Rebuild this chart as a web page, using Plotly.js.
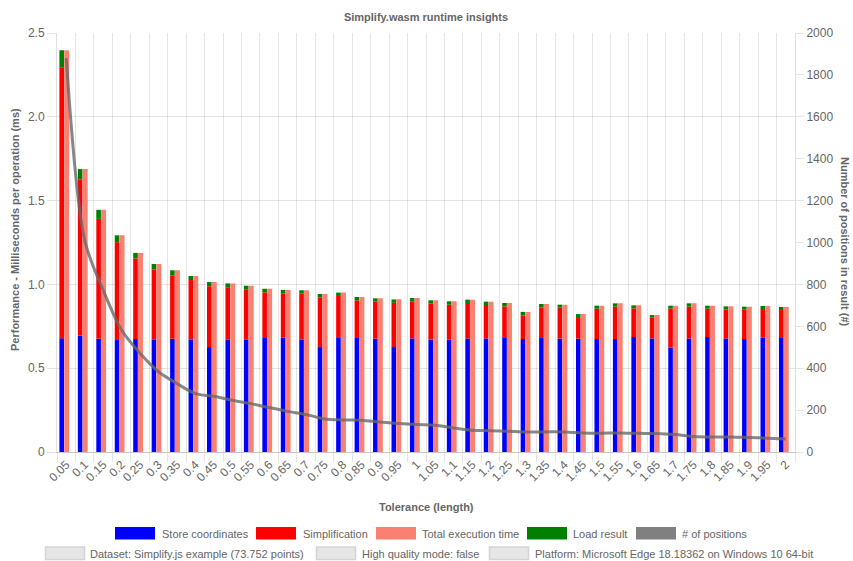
<!DOCTYPE html>
<html>
<head>
<meta charset="utf-8">
<script src="https://cdn.plot.ly/plotly-3.0.1.min.js"></script>
<style>
  html, body { margin: 0; padding: 0; background: #fff; }
  #chart { width: 853px; height: 561px; }
</style>
</head>
<body>
<div id="chart"></div>
<script>
// ---- Data ----
const categories = ['0.05','0.1','0.15','0.2','0.25','0.3','0.35','0.4','0.45','0.5',
                    '0.55','0.6','0.65','0.7','0.75','0.8','0.85','0.9','0.95','1',
                    '1.05','1.1','1.15','1.2','1.25','1.3','1.35','1.4','1.45','1.5',
                    '1.55','1.6','1.65','1.7','1.75','1.8','1.85','1.9','1.95','2'];

const storeCoordinates = [0.679,0.693,0.676,0.668,0.674,0.672,0.676,0.672,0.626,0.672,
                          0.672,0.680,0.681,0.672,0.626,0.680,0.680,0.676,0.626,0.678,
                          0.670,0.670,0.678,0.678,0.680,0.674,0.680,0.676,0.676,0.674,
                          0.674,0.686,0.678,0.624,0.678,0.686,0.678,0.674,0.681,0.680];

const simplification = [1.616,0.935,0.715,0.584,0.480,0.418,0.378,0.354,0.363,0.308,
                        0.296,0.273,0.266,0.273,0.297,0.251,0.225,0.221,0.264,0.221,
                        0.215,0.209,0.211,0.199,0.189,0.141,0.183,0.185,0.129,0.181,
                        0.193,0.171,0.123,0.233,0.189,0.169,0.173,0.175,0.172,0.167];

const loadResult = [0.102,0.060,0.054,0.041,0.034,0.032,0.030,0.024,0.025,0.026,
                    0.024,0.021,0.020,0.020,0.020,0.020,0.020,0.020,0.020,0.020,
                    0.020,0.020,0.020,0.020,0.020,0.021,0.020,0.018,0.018,0.018,
                    0.020,0.018,0.016,0.016,0.020,0.018,0.018,0.018,0.018,0.018];

const totalExecution = [2.397,1.688,1.445,1.293,1.188,1.122,1.084,1.050,1.014,1.006,
                        0.992,0.974,0.967,0.965,0.943,0.951,0.925,0.917,0.911,0.919,
                        0.905,0.899,0.909,0.897,0.889,0.836,0.883,0.879,0.823,0.873,
                        0.887,0.875,0.817,0.873,0.887,0.873,0.869,0.867,0.871,0.865];

const positions = [1880,1012,773,582,471,383,327,279,266,247,
                   231,212,194,179,158,153,152,143,136,131,
                   128,115,104,102,99,96,96,96,91,90,
                   91,89,88,83,74,72,72,69,66,62];

const leftTickVals = [0, 0.5, 1, 1.5, 2, 2.5];
const leftTickText = ['0', '0.5', '1.0', '1.5', '2.0', '2.5'];
const rightTickVals = [0,200,400,600,800,1000,1200,1400,1600,1800,2000];

const legendMain = ['Store coordinates','Simplification','Total execution time','Load result','# of positions'];
const legendInfo = ['Dataset: Simplify.js example (73.752 points)','High quality mode: false',
                    'Platform: Microsoft Edge 18.18362 on Windows 10 64-bit'];

// ---- Styles ----
const C_BLUE = '#0000ff', C_RED = '#ff0000', C_SALMON = '#fa8072', C_GREEN = '#008000', C_GRAY = '#808080';
const FONT = 'Liberation Sans, Arial, Helvetica, sans-serif';
const TXT = '#666666';

// pixel geometry of the plot area
const W = 853, H = 561;
const PL = 57, PR = 795, PT = 33, PB = 452;
const px = x => (x - PL) / (PR - PL);
const py = y => (PB - y) / (PB - PT);

// stacked bases built from the series
const baseRed = storeCoordinates.map((v, i) => v);
const baseGreen = storeCoordinates.map((v, i) => v + simplification[i]);

const STACK_OFF = -0.37, STACK_W = 0.25, TOT_OFF = -0.11, TOT_W = 0.27;

const traces = [
  { type: 'bar', name: 'Store coordinates', x: categories, y: storeCoordinates, base: 0,
    offset: STACK_OFF, width: STACK_W, marker: { color: C_BLUE, line: { width: 0 } } },
  { type: 'bar', name: 'Simplification', x: categories, y: simplification, base: baseRed,
    offset: STACK_OFF, width: STACK_W, marker: { color: C_RED, line: { width: 0 } } },
  { type: 'bar', name: 'Load result', x: categories, y: loadResult, base: baseGreen,
    offset: STACK_OFF, width: STACK_W, marker: { color: C_GREEN, line: { width: 0 } } },
  { type: 'bar', name: 'Total execution time', x: categories, y: totalExecution, base: 0,
    offset: TOT_OFF, width: TOT_W, marker: { color: C_SALMON, line: { width: 0 } } },
  { type: 'scatter', mode: 'lines', name: '# of positions', x: categories, y: positions, yaxis: 'y2',
    line: { color: 'rgba(105,105,105,0.8)', width: 3, shape: 'spline', smoothing: 0.9 } }
];

// ---- Manual Chart.js-style legend ----
const shapes = [];
const annotations = [];
const mainBoxes = [115, 256, 376, 527, 636];
const mainColors = [C_BLUE, C_RED, C_SALMON, C_GREEN, C_GRAY];
const mainText = [160, 301, 420, 571, 680];
legendMain.forEach((t, i) => {
  shapes.push({ type: 'rect', xref: 'paper', yref: 'paper', x0: px(mainBoxes[i]), x1: px(mainBoxes[i] + 40),
    y0: py(539.5), y1: py(527), fillcolor: mainColors[i], line: { width: 0 }, layer: 'above' });
  annotations.push({ xref: 'paper', yref: 'paper', x: px(mainText[i]), y: py(533.5), xanchor: 'left', yanchor: 'middle',
    text: t, showarrow: false, font: { family: FONT, size: 11, color: TXT } });
});
const infoBoxes = [45, 316, 489];
const infoText = [88, 360, 533];
legendInfo.forEach((t, i) => {
  shapes.push({ type: 'rect', xref: 'paper', yref: 'paper', x0: px(infoBoxes[i] + 0.5), x1: px(infoBoxes[i] + 39.5),
    y0: py(559.5), y1: py(547), fillcolor: '#e6e6e6', line: { width: 1.5, color: '#d4d4d4' }, layer: 'above' });
  annotations.push({ xref: 'paper', yref: 'paper', x: px(infoText[i]), y: py(553.5), xanchor: 'left', yanchor: 'middle',
    text: t, showarrow: false, font: { family: FONT, size: 11, color: TXT } });
});

// axis titles
annotations.push({ xref: 'paper', yref: 'paper', x: px(426), y: py(507), xanchor: 'center', yanchor: 'middle',
  text: '<b>Tolerance (length)</b>', showarrow: false, font: { family: FONT, size: 11, color: TXT } });
annotations.push({ xref: 'paper', yref: 'paper', x: px(15), y: py(230), xanchor: 'center', yanchor: 'middle', textangle: -90,
  text: '<b>Performance - Milliseconds per operation (ms)</b>', showarrow: false, font: { family: FONT, size: 11, color: TXT } });
annotations.push({ xref: 'paper', yref: 'paper', x: px(845), y: py(242), xanchor: 'center', yanchor: 'middle', textangle: 90,
  text: '<b>Number of positions in result (#)</b>', showarrow: false, font: { family: FONT, size: 11, color: TXT } });

const layout = {
  width: W, height: H,
  margin: { l: PL, r: W - PR, t: PT, b: H - PB, pad: 0 },
  paper_bgcolor: '#ffffff', plot_bgcolor: '#ffffff',
  font: { family: FONT, size: 12, color: TXT },
  title: { text: '<b>Simplify.wasm runtime insights</b>', x: 0.5, xref: 'paper', y: 1 - 17 / H, yanchor: 'middle',
           font: { family: FONT, size: 11, color: TXT } },
  barmode: 'overlay',
  showlegend: false,
  hovermode: false,
  xaxis: {
    type: 'category', tickson: 'boundaries', tickangle: -45,
    showgrid: true, gridcolor: 'rgba(0,0,0,0.1)', gridwidth: 1,
    ticks: 'outside', ticklen: 9, tickcolor: 'rgba(0,0,0,0.1)',
    showline: true, linecolor: 'rgba(0,0,0,0.22)', linewidth: 1,
    tickfont: { family: FONT, size: 12, color: TXT }, zeroline: false
  },
  yaxis: {
    range: [0, 2.5], tickvals: leftTickVals, ticktext: leftTickText,
    showgrid: true, gridcolor: 'rgba(0,0,0,0.1)', gridwidth: 1,
    ticks: 'outside', ticklen: 9, tickcolor: 'rgba(0,0,0,0.1)',
    showline: true, linecolor: 'rgba(0,0,0,0.12)', zeroline: false,
    tickfont: { family: FONT, size: 12, color: TXT }
  },
  yaxis2: {
    range: [0, 2000], tickvals: rightTickVals, overlaying: 'y', side: 'right',
    showgrid: false, ticks: 'outside', ticklen: 8, tickcolor: 'rgba(0,0,0,0.1)',
    showline: true, linecolor: 'rgba(0,0,0,0.12)', zeroline: false,
    tickfont: { family: FONT, size: 12, color: TXT }
  },
  shapes: shapes,
  annotations: annotations
};

Plotly.newPlot('chart', traces, layout, { staticPlot: true, displayModeBar: false });
</script>
</body>
</html>
